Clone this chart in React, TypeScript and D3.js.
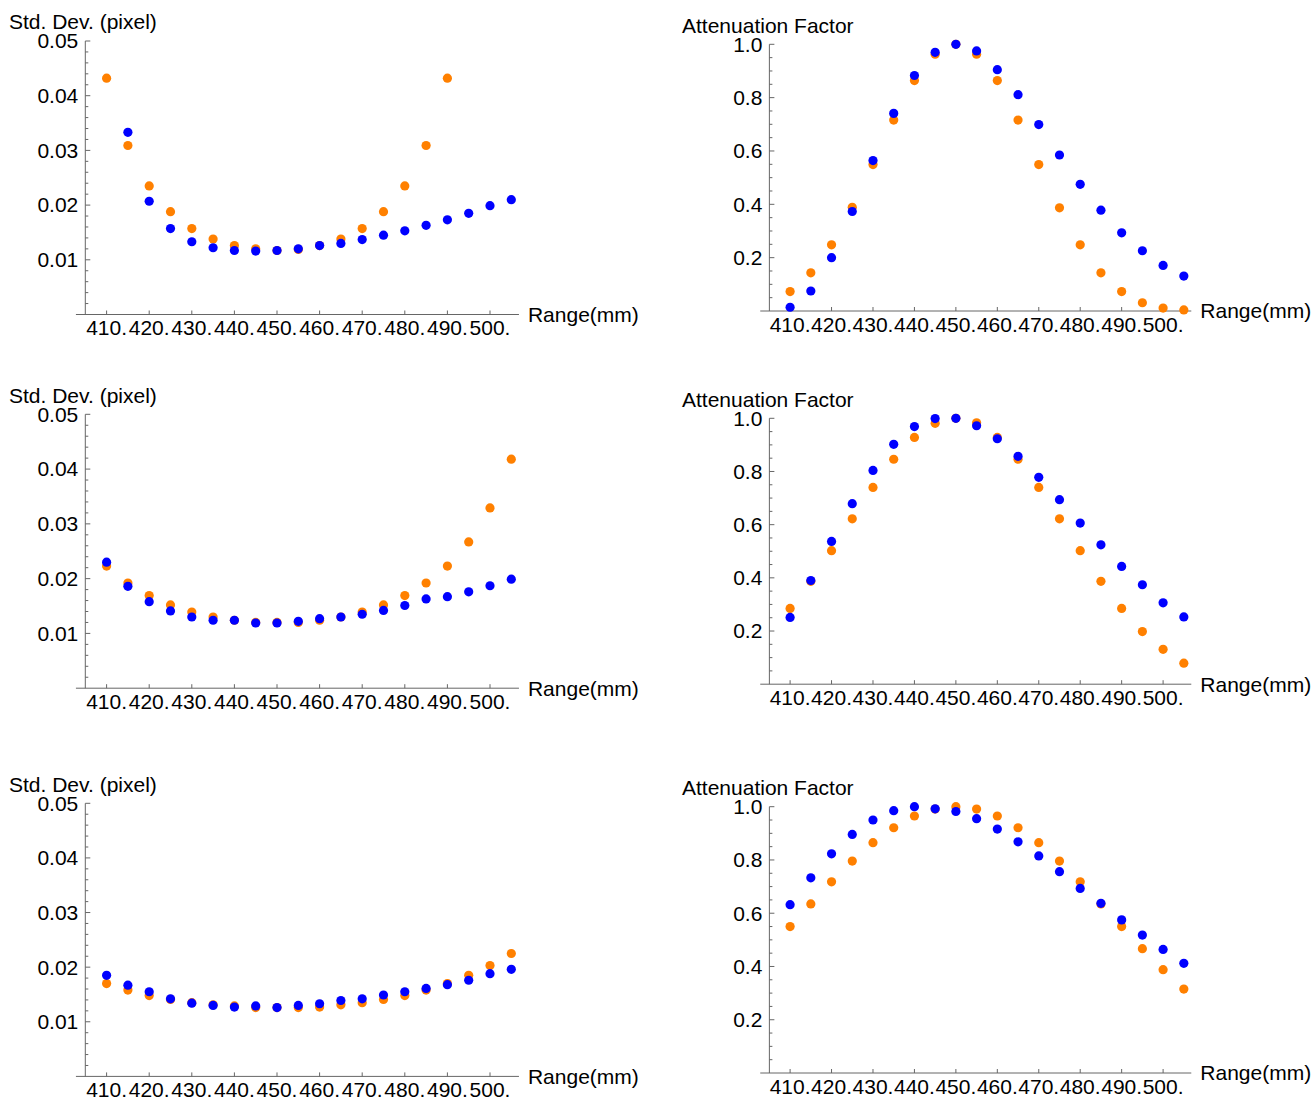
import * as d3 from "d3";
import React from "react";

// x positions (mm)
const ranges = [410, 415, 420, 425, 430, 435, 440, 445, 450, 455, 460, 465, 470, 475, 480, 485, 490, 495, 500, 505];
const rangeTicks = [410, 420, 430, 440, 450, 460, 470, 480, 490, 500];

const stdTicks = [0.01, 0.02, 0.03, 0.04, 0.05];
const attTicks = [0.2, 0.4, 0.6, 0.8, 1.0];

// null = off the plot
const stdTopOrange = [0.0432, 0.0309, 0.0235, 0.0188, 0.0157, 0.0138, 0.0126, 0.012, 0.0117, 0.0119, 0.0126, 0.0138, 0.0157, 0.0188, 0.0235, 0.0309, 0.0432, null, null, null];
const stdTopBlue = [null, 0.0333, 0.0207, 0.0157, 0.0133, 0.0122, 0.0117, 0.0116, 0.0117, 0.012, 0.0126, 0.013, 0.0137, 0.0145, 0.0153, 0.0163, 0.0173, 0.0185, 0.0199, 0.021];
const attTopOrange = [0.073, 0.143, 0.248, 0.389, 0.549, 0.716, 0.864, 0.963, 1.0, 0.963, 0.864, 0.716, 0.549, 0.387, 0.248, 0.143, 0.073, 0.031, 0.011, 0.004];
const attTopBlue = [0.014, 0.075, 0.2, 0.373, 0.564, 0.741, 0.883, 0.97, 1.0, 0.975, 0.905, 0.811, 0.699, 0.585, 0.475, 0.378, 0.293, 0.226, 0.171, 0.131];

const stdMidOrange = [0.0223, 0.0192, 0.0169, 0.0152, 0.0139, 0.013, 0.0124, 0.012, 0.012, 0.012, 0.0124, 0.013, 0.0139, 0.0152, 0.0169, 0.0192, 0.0223, 0.0267, 0.0329, 0.0418];
const stdMidBlue = [0.023, 0.0186, 0.0158, 0.0141, 0.013, 0.0124, 0.0124, 0.0119, 0.0119, 0.0122, 0.0127, 0.013, 0.0135, 0.0142, 0.0151, 0.0163, 0.0167, 0.0176, 0.0187, 0.0199];
const attMidOrange = [0.285, 0.387, 0.502, 0.622, 0.74, 0.846, 0.928, 0.981, 1.0, 0.983, 0.928, 0.846, 0.74, 0.622, 0.502, 0.387, 0.285, 0.198, 0.131, 0.079];
const attMidBlue = [0.251, 0.39, 0.537, 0.679, 0.804, 0.902, 0.969, 0.999, 1.0, 0.972, 0.923, 0.857, 0.778, 0.694, 0.606, 0.524, 0.443, 0.374, 0.306, 0.253];

const stdBotOrange = [0.017, 0.0158, 0.0148, 0.0141, 0.0135, 0.0131, 0.0129, 0.0126, 0.0126, 0.0126, 0.0127, 0.0131, 0.0135, 0.0141, 0.0148, 0.0158, 0.017, 0.0185, 0.0203, 0.0225];
const stdBotBlue = [0.0185, 0.0167, 0.0155, 0.0142, 0.0134, 0.013, 0.0127, 0.0129, 0.0126, 0.013, 0.0133, 0.0139, 0.0142, 0.0149, 0.0155, 0.0161, 0.0168, 0.0176, 0.0188, 0.0196];
const attBotOrange = [0.55, 0.635, 0.718, 0.796, 0.865, 0.921, 0.965, 0.991, 1.0, 0.991, 0.965, 0.921, 0.865, 0.796, 0.718, 0.635, 0.55, 0.467, 0.388, 0.315];
const attBotBlue = [0.632, 0.733, 0.823, 0.896, 0.95, 0.985, 1.0, 0.992, 0.982, 0.955, 0.916, 0.868, 0.815, 0.756, 0.693, 0.637, 0.575, 0.518, 0.464, 0.412];

const ORANGE = "#ff8000";
const BLUE = "#0000ff";
const AXIS = "#666666";
const FONT = "'Liberation Sans', Arial, sans-serif";
const FS = 21;

type PanelProps = {
  xRange: [number, number];
  top: number;
  bottom: number;
  titleX: number;
  title: string;
  yMax: number;
  ticks: number[];
  minorStep: number;
  fmt: (v: number) => string;
  orange: (number | null)[];
  blue: (number | null)[];
};

function Panel({ xRange, top, bottom, titleX, title, yMax, ticks, minorStep, fmt, orange, blue }: PanelProps) {
  const x = d3.scaleLinear().domain([410, 500]).range(xRange);
  const y = d3.scaleLinear().domain([0, yMax]).range([bottom, top]);
  const x0 = x(405);
  const minors = d3.range(minorStep, yMax + minorStep / 2, minorStep).filter(
    (v) => !ticks.some((t) => Math.abs(t - v) < minorStep / 10)
  );
  const dots = (vals: (number | null)[], color: string) =>
    vals.map((v, i) =>
      v == null ? null : <circle key={color + i} cx={x(ranges[i])} cy={y(v)} r={4.6} fill={color} />
    );
  return (
    <g fontFamily={FONT} fontSize={FS}>
      <text x={titleX} y={top - 11.7} fill="#000">{title}</text>
      {/* axes */}
      <line x1={x(402.8)} x2={x(506.8)} y1={bottom} y2={bottom} stroke={AXIS} />
      <line x1={x0} x2={x0} y1={bottom} y2={top} stroke={AXIS} />
      {ticks.map((t) => (
        <g key={"y" + t}>
          <line x1={x0} x2={x0 + 5} y1={y(t)} y2={y(t)} stroke={AXIS} />
          <text x={x0 - 7} y={y(t)} dy="0.35em" textAnchor="end" fill="#000">{fmt(t)}</text>
        </g>
      ))}
      {minors.map((t) => (
        <line key={"m" + t} x1={x0} x2={x0 + 3} y1={y(t)} y2={y(t)} stroke={AXIS} />
      ))}
      {rangeTicks.map((t) => (
        <g key={"x" + t}>
          <line x1={x(t)} x2={x(t)} y1={bottom} y2={bottom - 4} stroke={AXIS} />
          <text x={x(t)} y={bottom + 20.7} textAnchor="middle" fill="#000">{t + "."}</text>
        </g>
      ))}
      <text x={x(506.8) + 9} y={bottom} dy="0.35em" fill="#000">Range(mm)</text>
      {dots(orange, ORANGE)}
      {dots(blue, BLUE)}
    </g>
  );
}

const leftX: [number, number] = [106.6, 490];
const rightX: [number, number] = [790.1, 1163.1];
const leftRows = [[41, 314.5], [414.3, 688.2], [803.3, 1076.4]];
const rightRows = [[44.3, 311], [418.3, 684.2], [806.7, 1073]];

export default function App() {
  const stdSets = [[stdTopOrange, stdTopBlue], [stdMidOrange, stdMidBlue], [stdBotOrange, stdBotBlue]];
  const attSets = [[attTopOrange, attTopBlue], [attMidOrange, attMidBlue], [attBotOrange, attBotBlue]];
  return (
    <svg width={1312} height={1102} style={{ position: "absolute", left: 0, top: 0, background: "#fff" }}>
      <rect width={1312} height={1102} fill="#fff" />
      {stdSets.map((s, i) => (
        <Panel
          key={"s" + i}
          xRange={leftX}
          top={leftRows[i][0]}
          bottom={leftRows[i][1]}
          titleX={9}
          title="Std. Dev. (pixel)"
          yMax={0.05}
          ticks={stdTicks}
          minorStep={0.002}
          fmt={(v) => v.toFixed(2)}
          orange={s[0]}
          blue={s[1]}
        />
      ))}
      {attSets.map((s, i) => (
        <Panel
          key={"a" + i}
          xRange={rightX}
          top={rightRows[i][0]}
          bottom={rightRows[i][1]}
          titleX={682}
          title="Attenuation Factor"
          yMax={1.0}
          ticks={attTicks}
          minorStep={0.05}
          fmt={(v) => v.toFixed(1)}
          orange={s[0]}
          blue={s[1]}
        />
      ))}
    </svg>
  );
}
